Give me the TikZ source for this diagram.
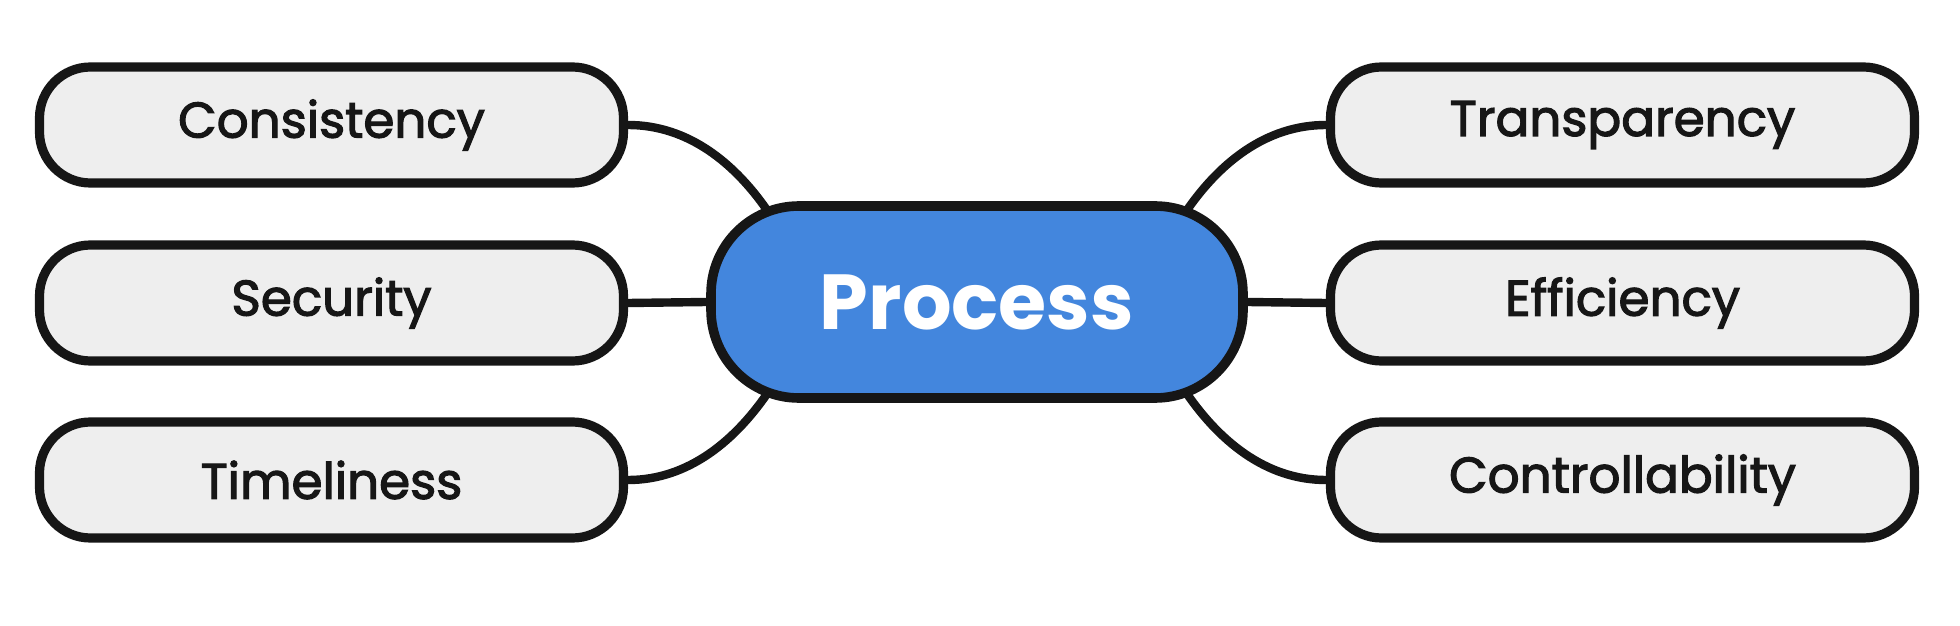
\documentclass[tikz,border=0pt]{standalone}
\usepackage{fontspec}
\setmainfont{Poppins}
\newfontfamily\lblfont{Poppins}[FakeBold=2.4]
\usetikzlibrary{calc,backgrounds}
\definecolor{ink}{HTML}{161616}
\definecolor{leafgray}{HTML}{EEEEEE}
\definecolor{hubblue}{HTML}{4386DD}
\begin{document}
\begin{tikzpicture}[x=0.5pt,y=-0.5pt,
  leaf/.style={draw=ink, line width=4.6pt, fill=leafgray, rounded corners=25.5pt,
    minimum width=292pt, minimum height=58pt, inner sep=0pt,
    font=\lblfont\fontsize{25}{30}\selectfont, text=ink},
  hub/.style={draw=ink, line width=4.8pt, fill=hubblue, rounded corners=44pt,
    minimum width=266pt, minimum height=96pt, inner sep=0pt,
    font=\bfseries\fontsize{39}{46}\selectfont, text=white},
  link/.style={draw=ink, line width=4.2pt}]
\useasboundingbox (0,0) rectangle (1960,626);
\node[hub] (hub) at (977,302) {Process};
\node[leaf] (cons) at (331.5,125) {\raisebox{-1pt}{Consistency}};
\node[leaf] (secu) at (331.5,303) {\raisebox{-1pt}{Security}};
\node[leaf] (time) at (331.5,480) {\raisebox{-1pt}{Timeliness}};
\node[leaf] (tran) at (1622.5,125) {\raisebox{-1pt}{Transparency}};
\node[leaf] (effi) at (1622.5,303) {\raisebox{-1pt}{Efficiency}};
\node[leaf] (cont) at (1622.5,480) {\raisebox{-1pt}{Controllability}};
\coordinate (hnw) at ($(hub.center)+(-206,-86)$);
\coordinate (hsw) at ($(hub.center)+(-206,86)$);
\coordinate (hne) at ($(hub.center)+(206,-86)$);
\coordinate (hse) at ($(hub.center)+(206,86)$);
\begin{scope}[on background layer]
\draw[link] (cons.east) .. controls +(60,0) and ($(hnw)+(-35,-53)$) .. (hnw);
\draw[link] (time.east) .. controls +(60,0) and ($(hsw)+(-35,53)$) .. (hsw);
\draw[link] (tran.west) .. controls +(-60,0) and ($(hne)+(35,-53)$) .. (hne);
\draw[link] (cont.west) .. controls +(-60,0) and ($(hse)+(35,53)$) .. (hse);
\draw[link] (secu.east) -- (hub.west);
\draw[link] (effi.west) -- (hub.east);
\end{scope}
\end{tikzpicture}
\end{document}
